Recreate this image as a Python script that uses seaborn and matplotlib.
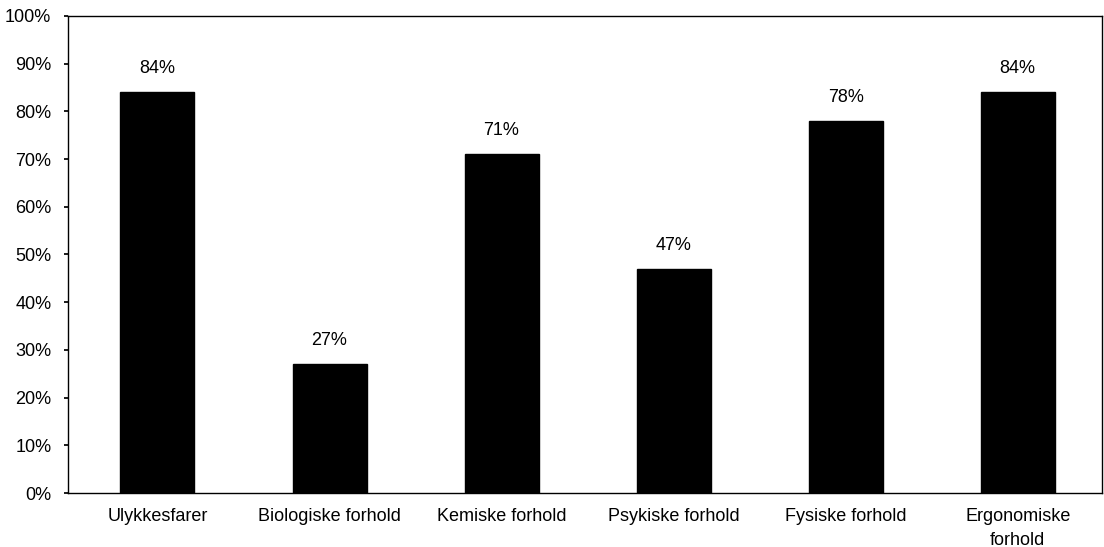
import matplotlib
matplotlib.use("Agg")
import matplotlib.pyplot as plt
import seaborn as sns
import pandas as pd

categories = ["Ulykkesfarer", "Biologiske forhold", "Kemiske forhold",
              "Psykiske forhold", "Fysiske forhold", "Ergonomiske\nforhold"]
values = [84, 27, 71, 47, 78, 84]
value_labels = ["84%", "27%", "71%", "47%", "78%", "84%"]
ytick_values = [0, 10, 20, 30, 40, 50, 60, 70, 80, 90, 100]
ytick_labels = ["0%", "10%", "20%", "30%", "40%", "50%", "60%", "70%", "80%", "90%", "100%"]

sns.set_theme(style="white")
plt.rcParams['font.family'] = ['Liberation Sans', 'DejaVu Sans']
plt.rcParams['text.color'] = 'black'
plt.rcParams['xtick.color'] = 'black'
plt.rcParams['ytick.color'] = 'black'

df = pd.DataFrame({"cat": categories, "val": values})

fig = plt.figure(figsize=(11.04, 5.47), dpi=100)
ax = fig.add_axes([68/1104, 1 - 493/547, (1102-68)/1104, (493-16)/547])

sns.barplot(data=df, x="cat", y="val", color="black", width=0.43,
            saturation=1, ax=ax, edgecolor="black")

for i, (v, lab) in enumerate(zip(values, value_labels)):
    ax.annotate(lab, (i, v), xytext=(0, 11), textcoords="offset points",
                ha="center", va="bottom", fontsize=13, color="black")

ax.set_ylim(0, 100)
ax.set_xlim(-0.52, 5.49)
ax.set_yticks(ytick_values)
ax.set_yticklabels(ytick_labels, fontsize=13)
for t in ax.get_xticklabels():
    t.set_linespacing(1.5)
ax.tick_params(axis="x", labelsize=13, length=0, pad=11, colors="black")
ax.tick_params(axis="y", length=3, direction="out", left=True, pad=9, colors="black")
ax.set_xlabel("")
ax.set_ylabel("")
for s in ax.spines.values():
    s.set_visible(True)
    s.set_color("black")
    s.set_linewidth(1.0)

fig.savefig("out.png", dpi=100)
